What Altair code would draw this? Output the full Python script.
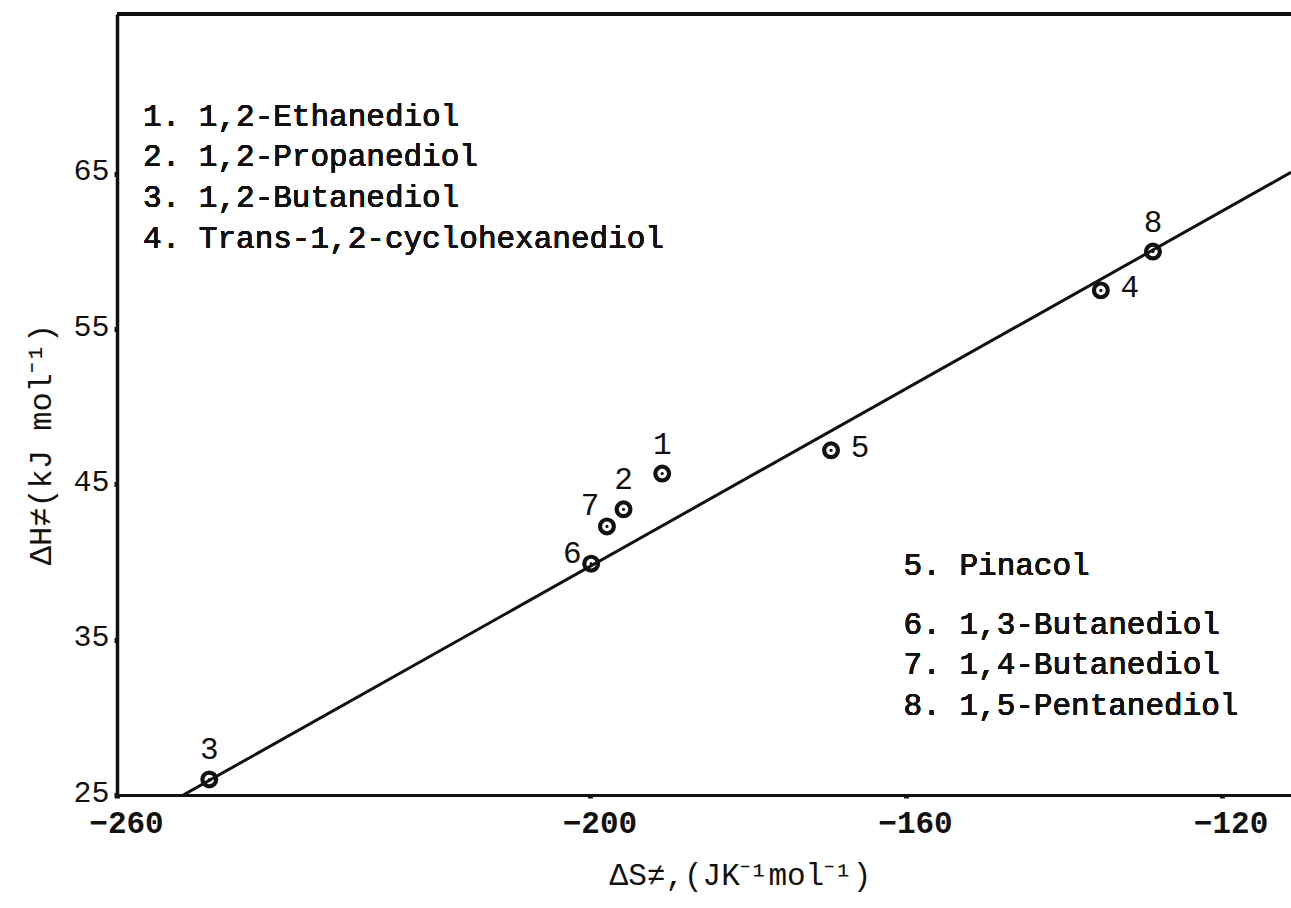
import altair as alt
import pandas as pd

# Activation parameters of the diol series
compound_id = [1, 2, 3, 4, 5, 6, 7, 8]
delta_s = [-190.9, -195.8, -248.3, -135.3, -169.5, -199.9, -197.9, -128.7]
delta_h = [45.7, 43.4, 26.0, 57.5, 47.2, 39.9, 42.3, 60.0]
label_side = ["above", "above", "above", "right", "right", "left", "upper-left", "above"]

# Isokinetic (compensation) line
fit_s = [-251.6, -111.2]
fit_h = [25.0, 65.1]

legend_top = [
    "1. 1,2-Ethanediol",
    "2. 1,2-Propanediol",
    "3. 1,2-Butanediol",
    "4. Trans-1,2-cyclohexanediol",
]
legend_pinacol = ["5. Pinacol"]
legend_bottom = [
    "6. 1,3-Butanediol",
    "7. 1,4-Butanediol",
    "8. 1,5-Pentanediol",
]

x_ticks = [-260, -200, -160, -120]
y_ticks = [25, 35, 45, 55, 65]
x_domain = [-260, -111.2]
y_domain = [25, 75.3]

FONT = "Liberation Mono"
INK = "#111111"

pts = pd.DataFrame({"id": compound_id, "ds": delta_s, "dh": delta_h,
                    "side": label_side})
pts["label"] = pts["id"].astype(str)
fit = pd.DataFrame({"ds": fit_s, "dh": fit_h})

x_scale = alt.Scale(domain=x_domain, nice=False, zero=False)
y_scale = alt.Scale(domain=y_domain, nice=False, zero=False)

x_axis = alt.Axis(
    values=x_ticks, title="ΔS≠,(JK⁻¹mol⁻¹)", grid=False,
    domainColor=INK, domainWidth=3, tickColor=INK, tickWidth=5, tickSize=3,
    labelFont=FONT, labelFontSize=31, labelFontWeight="bold", labelColor=INK,
    labelPadding=10, labelOffset=9, labelFlush=False,
    titleFont=FONT, titleFontSize=31, titleFontWeight="normal", titleColor=INK,
    titleX=623, titleY=80, titleAnchor="middle", titleBaseline="middle",
)
y_axis = alt.Axis(
    values=y_ticks, title="ΔH≠(kJ mol⁻¹)", grid=False,
    domainColor=INK, domainWidth=3.5, tickColor=INK, tickWidth=5, tickSize=3,
    labelFont=FONT, labelFontSize=30, labelColor=INK, labelPadding=5,
    labelFlush=False, labelOffset=-3,
    titleFont=FONT, titleFontSize=32, titleFontWeight="normal", titleColor=INK,
    titleX=-77, titleY=430, titleAngle=270, titleAlign="center",
    titleBaseline="middle",
)

base = alt.Chart(pts)

line = alt.Chart(fit).mark_line(color=INK, strokeWidth=3, clip=True).encode(
    x=alt.X("ds:Q", scale=x_scale, axis=x_axis),
    y=alt.Y("dh:Q", scale=y_scale, axis=y_axis),
)

rings = base.mark_point(shape="circle", size=190, filled=False, color=INK,
                        strokeWidth=4.2, opacity=1).encode(
    x=alt.X("ds:Q", scale=x_scale), y=alt.Y("dh:Q", scale=y_scale))
dots = base.mark_point(shape="circle", size=10, filled=True, color=INK,
                       opacity=1).encode(
    x=alt.X("ds:Q", scale=x_scale), y=alt.Y("dh:Q", scale=y_scale))

# point numbers, offset according to their side
offsets = {"above": (0, -29), "right": (29, -2), "left": (-19, -10),
           "upper-left": (-17, -20)}
labels = []
for side, (dx, dy) in offsets.items():
    labels.append(
        base.transform_filter(alt.datum.side == side)
        .mark_text(font=FONT, fontSize=31, fontWeight="normal", color=INK,
                   dx=dx, dy=dy, align="center", baseline="middle")
        .encode(x=alt.X("ds:Q", scale=x_scale), y=alt.Y("dh:Q", scale=y_scale),
                text="label:N")
    )

# top border of the frame
top_rule = alt.Chart(pts).mark_rule(color=INK, strokeWidth=3).encode(
    y=alt.datum(y_domain[1]))


def legend_block(lines, xpos, ypos):
    return alt.Chart(pts).mark_text(
        text=lines, font=FONT, fontSize=31, fontWeight="normal", color=INK,
        align="left", baseline="alphabetic", lineHeight=40.7,
    ).encode(x=alt.datum(xpos), y=alt.datum(ypos))


legends = [
    legend_block(legend_top, -256.7, 68.1),
    legend_block(legend_pinacol, -160.3, 39.2),
    legend_block(legend_bottom, -160.3, 35.4),
]

chart = alt.layer(line, top_rule, rings, dots, *labels, *legends).properties(
    width=1174, height=781,
    autosize=alt.AutoSizeParams(type="none"),
    padding={"left": 117, "top": 14, "right": 0, "bottom": 113},
    background="white",
).configure_view(stroke=None)

chart.save("out.html", embed_options={"renderer": "svg", "actions": False})
